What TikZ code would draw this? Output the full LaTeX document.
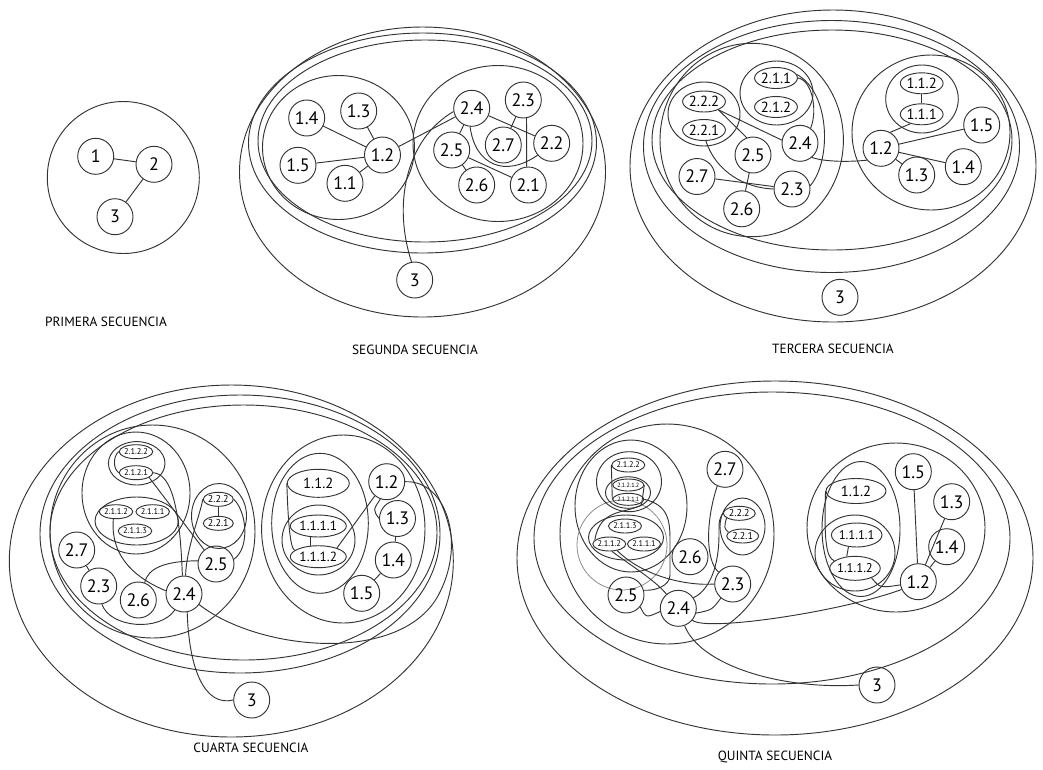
\documentclass[tikz,border=0pt]{standalone}
\usepackage{fontspec}
\setmainfont{PT Sans}
\usetikzlibrary{shapes.geometric}
\begin{document}
\begin{tikzpicture}[x=0.75pt,y=-0.75pt,
  ln/.style={draw=black!80, line width=0.7pt},
  nd/.style={circle, ln, minimum size=27pt, inner sep=0pt, font=\fontsize{13.5}{14}\selectfont},
  sm/.style={ellipse, ln, inner sep=0pt},
  ethree/.style={sm, minimum width=31.5pt, minimum height=15.75pt, font=\fontsize{11}{12}\selectfont},
  tfour/.style={sm, minimum width=24pt, minimum height=10.5pt, font=\fontsize{6.3}{7}\selectfont},
  tfourb/.style={sm, minimum width=22.5pt, minimum height=10.5pt, font=\fontsize{7.5}{8}\selectfont},
  mfour/.style={sm, minimum width=46.5pt, minimum height=21pt, font=\fontsize{11}{12}\selectfont},
  mfourb/.style={sm, minimum width=42pt, minimum height=16.5pt, font=\fontsize{10}{11}\selectfont},
  tfive/.style={sm, minimum width=22.5pt, minimum height=10.5pt, font=\fontsize{6.2}{7}\selectfont},
  tfives/.style={sm, minimum width=19.5pt, minimum height=9pt, font=\fontsize{4.6}{5}\selectfont},
  tfiveb/.style={sm, minimum width=24pt, minimum height=10.5pt, font=\fontsize{7.5}{8}\selectfont},
  mfive/.style={sm, minimum width=45pt, minimum height=18.75pt, font=\fontsize{11}{12}\selectfont},
  mfiveb/.style={sm, minimum width=37.5pt, minimum height=18pt, font=\fontsize{9.5}{10}\selectfont},
  ttl/.style={font=\fontsize{10}{12}\selectfont},
  lite/.style={draw=black!45, line width=0.6pt}
]
\useasboundingbox (0,0) rectangle (1043,769);

%% ---------- PRIMERA ----------
\draw[ln] (123.3,177.5) ellipse [x radius=76, y radius=76];
\node[nd] (a1) at (95.7,156.3) {1};
\node[nd] (a2) at (154,164.3) {2};
\node[nd] (a3) at (115,216.7) {3};
\draw[ln] (a1) -- (a2);
\draw[ln] (a2) -- (a3);
\node[ttl] (t1) at (106,322) {PRIMERA SECUENCIA};

%% ---------- SEGUNDA ----------
\draw[ln] (422.5,172) ellipse [x radius=183, y radius=145];
\draw[ln] (422.5,143) ellipse [x radius=174, y radius=110];
\draw[ln] (425,141) ellipse [x radius=167, y radius=101];
\draw[ln] (338.5,147.5) ellipse [x radius=76, y radius=72];
\draw[ln] (498,143.5) ellipse [x radius=85, y radius=78];
\node[nd] (b14) at (306.7,118) {1.4};
\node[nd] (b13) at (358.7,111) {1.3};
\node[nd] (b12) at (382.5,155) {1.2};
\node[nd] (b15) at (298,165.3) {1.5};
\node[nd] (b11) at (345,183.3) {1.1};
\node[nd] (b24) at (471.7,108.3) {2.4};
\node[nd] (b23) at (523.3,100) {2.3};
\node[nd] (b25) at (451.7,150) {2.5};
\node[nd] (b27) at (503.3,145) {2.7};
\node[nd] (b22) at (551.7,143.3) {2.2};
\node[nd] (b26) at (476.7,185) {2.6};
\node[nd] (b21) at (528.3,185) {2.1};
\node[nd] (b3) at (414.7,280) {3};
\draw[ln] (b14) -- (b12);
\draw[ln] (b13) -- (b12);
\draw[ln] (b15) -- (b12);
\draw[ln] (b11) -- (b12);
\draw[ln] (b12) -- (b24);
\draw[ln] (b24) -- (b25);
\draw[ln] (b24) -- (b22);
\draw[ln] (b23) -- (b27);
\draw[ln] (b23.-80) -- (b21.95);
\draw[ln] (b25) -- (b21);
\draw[ln] (b25) -- (b26);
\draw[ln] (b24.-95) .. controls (475,165) and (505,178) .. (b22.-140);
\draw[ln] (b3.100) .. controls (393,205) and (405,140) .. (b24.190);
\node[ttl] (t2) at (415,350) {SEGUNDA SECUENCIA};

%% ---------- TERCERA ----------
\draw[ln] (833,166) ellipse [x radius=203, y radius=156];
\draw[ln] (831.5,146.5) ellipse [x radius=188, y radius=126];
\draw[ln] (832,140) ellipse [x radius=180, y radius=110];
\draw[ln] (751.7,140) ellipse [x radius=91.7, y radius=96.7];
\draw[ln] (931,132.5) ellipse [x radius=79, y radius=77.5];
\draw[ln] (776.5,93) ellipse [x radius=36.5, y radius=32];
\draw[ln] (704,114) ellipse [x radius=36, y radius=32];
\draw[ln] (922,99) ellipse [x radius=36.3, y radius=34];
\node[ethree] (c211) at (776,78) {2.1.1};
\node[ethree] (c212) at (776,107) {2.1.2};
\node[ethree] (c222) at (704,101.5) {2.2.2};
\node[ethree] (c221) at (704,130) {2.2.1};
\node[ethree] (c112) at (921.7,83.3) {1.1.2};
\node[ethree] (c111) at (921.7,114.3) {1.1.1};
\node[nd] (c24) at (800,143.3) {2.4};
\node[nd] (c25) at (753,155) {2.5};
\node[nd] (c23) at (792,189) {2.3};
\node[nd] (c27) at (697,176.5) {2.7};
\node[nd] (c26) at (741.7,208.8) {2.6};
\node[nd] (c12) at (881,148.3) {1.2};
\node[nd] (c15) at (981.7,125) {1.5};
\node[nd] (c14) at (963.3,166.7) {1.4};
\node[nd] (c13) at (916.7,175) {1.3};
\node[nd] (c3) at (840,297.3) {3};
\draw[ln] (c222.-30) -- (c24.170);
\draw[ln] (c222.-30) -- (c25.110);
\draw[ln] (c221.-80) .. controls (716,172) and (745,188) .. (c23.180);
\draw[ln] (c27) -- (c23);
\draw[ln] (c25) -- (c26);
\draw[ln] (c211.east) .. controls (812,80) and (818,110) .. (c24.55);
\draw[ln] (c211.10) .. controls (830,92) and (832,160) .. (c23.10);
\draw[ln] (c24.-50) .. controls (825,162) and (850,162) .. (c12.220);
\draw[ln] (c112) -- (c111);
\draw[ln] (c111.220) -- (c12.60);
\draw[ln] (c12) -- (c15);
\draw[ln] (c12) -- (c14);
\draw[ln] (c12) -- (c13);
\node[ttl] (t3) at (833,349) {TERCERA SECUENCIA};

%% ---------- CUARTA ----------
\draw[ln] (231.3,561) ellipse [x radius=222, y radius=176];
\draw[ln] (240,534) ellipse [x radius=200, y radius=139];
\draw[ln] (243.5,532.5) ellipse [x radius=193.5, y radius=127.5];
\draw[ln] (152.5,531.5) ellipse [x radius=102.5, y radius=106.5];
\draw[ln] (343.3,529) ellipse [x radius=81.7, y radius=94];
\draw[ln] (136,493) ellipse [x radius=54, y radius=61];
\draw[ln] (136.7,463.3) ellipse [x radius=28.3, y radius=21.7];
\draw[ln] (136.7,521) ellipse [x radius=41.7, y radius=24];
\draw[ln] (219,516) ellipse [x radius=27.5, y radius=32.5];
\draw[ln] (320,523.3) ellipse [x radius=48.3, y radius=70];
\draw[ln] (318.5,540) ellipse [x radius=36.5, y radius=35];
\node[tfour] (d2122) at (136,451.7) {2.1.2.2};
\node[tfour] (d2121) at (136,472.7) {2.1.2.1};
\node[tfour] (d2112) at (116,511.7) {2.1.1.2};
\node[tfour] (d2111) at (152.7,511.7) {2.1.1.1};
\node[tfour] (d2113) at (135,531) {2.1.1.3};
\node[tfourb] (d222) at (218.3,499.3) {2.2.2};
\node[tfourb] (d221) at (218.3,523.3) {2.2.1};
\node[mfour] (d112) at (318.3,483.3) {1.1.2};
\node[mfourb] (d1111) at (318.3,526) {1.1.1.1};
\node[mfourb] (d1112) at (318.3,556.7) {1.1.1.2};
\node[nd] (d25) at (216,564) {2.5};
\node[nd] (d27) at (76.7,550) {2.7};
\node[nd] (d23) at (98.7,586) {2.3};
\node[nd] (d26) at (138.3,600) {2.6};
\node[nd] (d24) at (184,594) {2.4};
\node[nd] (d3) at (251.7,700) {3};
\node[nd] (d12) at (386.7,481.7) {1.2};
\node[nd] (d13) at (397.5,518.5) {1.3};
\node[nd] (d14) at (393.3,560) {1.4};
\node[nd] (d15) at (361.7,593.3) {1.5};
\draw[ln] (d2122.west) .. controls (113,456) and (113,469) .. (d2121.west);
\draw[ln] (d2121.east) .. controls (172,474) and (180,510) .. (d24.95);
\draw[ln] (d2121.-20) -- (d25.130);
\draw[ln] (d2112.-110) .. controls (110,560) and (140,580) .. (d24.170);
\draw[ln] (d222.west) .. controls (200,515) and (186,550) .. (d24.85);
\draw[ln] (d222.east) .. controls (247,512) and (250,548) .. (d25.15);
\draw[ln] (d222) -- (d221);
\draw[ln] (d25.170) .. controls (165,561) and (148,568) .. (d26.70);
\draw[ln] (d27) -- (d23);
\draw[ln] (d23.-80) .. controls (110,628) and (160,632) .. (d24.-120);
\draw[ln] (d24.-80) .. controls (189,670) and (205,707) .. (d3.west);
\draw[ln] (d24.-35) .. controls (260,652) and (405,665) .. (440,592)
   .. controls (466,540) and (445,480) .. (d12.east);
\draw[ln] (d112.west) .. controls (288,520) and (290,548) .. (d1112.165);
\draw[ln] (d1111.235) -- (d1112.125);
\draw[ln] (d12.230) -- (d1112.25);
\draw[ln] (d12.250) .. controls (373,510) .. (d13.west);
\draw[ln] (d13) -- (d14);
\draw[ln] (d14) -- (d15);
\node[ttl] (t4) at (251,748) {CUARTA SECUENCIA};

%% ---------- QUINTA ----------
\draw[ln] (775,558) ellipse [x radius=258, y radius=177];
\draw[ln] (772,538) ellipse [x radius=238, y radius=146];
\draw[ln] (667,534) ellipse [x radius=107, y radius=110];
\draw[ln] (631,506) ellipse [x radius=56, y radius=66];
\draw[lite] (622,545) ellipse [x radius=45, y radius=45];
\draw[ln] (629,481.7) ellipse [x radius=32.5, y radius=30];
\draw[ln] (628,492.5) ellipse [x radius=22.5, y radius=15.8];
\draw[ln] (626,537.5) ellipse [x radius=37.5, y radius=22.5];
\draw[ln] (742.5,526.5) ellipse [x radius=22.5, y radius=28.5];
\draw[ln] (896,527.5) ellipse [x radius=89, y radius=84.5];
\draw[ln] (861,529) ellipse [x radius=39, y radius=67.5];
\draw[ln] (855,553) ellipse [x radius=40, y radius=38];
\node[tfive] (e2122) at (628.3,465) {2.1.2.2};
\node[tfives] (e21212) at (628.3,485) {2.1.2.1.2};
\node[tfives] (e21211) at (628.3,499.3) {2.1.2.1.1};
\node[tfive] (e2113) at (625,526) {2.1.1.3};
\node[tfive] (e2112) at (609.3,544) {2.1.1.2};
\node[tfive] (e2111) at (644,544) {2.1.1.1};
\node[tfiveb] (e222) at (739.3,513.3) {2.2.2};
\node[tfiveb] (e221) at (742.7,536) {2.2.1};
\node[mfive] (e112) at (856,491) {1.1.2};
\node[mfiveb] (e1111) at (856.7,535) {1.1.1.1};
\node[mfiveb] (e1112) at (855,568.3) {1.1.1.2};
\node[nd] (e27) at (725,469.3) {2.7};
\node[nd] (e26) at (690,556.7) {2.6};
\node[nd] (e23) at (732.7,584) {2.3};
\node[nd] (e25) at (626,595) {2.5};
\node[nd] (e24) at (678.3,608.3) {2.4};
\node[nd] (e3) at (877,685) {3};
\node[nd] (e15) at (913.3,471.7) {1.5};
\node[nd] (e13) at (951.7,501.7) {1.3};
\node[nd] (e14) at (946.7,546.7) {1.4};
\node[nd] (e12) at (918.3,581.7) {1.2};
\draw[ln] (e2122.west) -- (e21211.west);
\draw[ln] (e21212.east) -- (641.5,505) .. controls (625,514) and (600,508) .. (e2112.165);
\draw[ln] (e2112.-70) .. controls (630,565) and (655,580) .. (e24.130);
\draw[ln] (e2112.-40) .. controls (645,578) and (690,586) .. (e23.west);
\draw[ln] (e21211.east) .. controls (668,505) and (670,520) .. (670,540) -- (670,575)
   .. controls (670,586) and (655,591) .. (e25.15);
\draw[ln] (e25.-40) .. controls (646,618) .. (e24.190);
\draw[ln] (e24.35) .. controls (710,590) and (719,565) .. (719,535) .. controls (719,520) .. (e222.west);
\draw[ln] (e222.200) .. controls (724,528) .. (e221.165);
\draw[ln] (e27.-115) .. controls (706,520) and (705,560) .. (e23.140);
\draw[ln] (e24.-15) .. controls (712,610) .. (e23.230);
\draw[ln] (e24.-70) .. controls (700,665) and (780,690) .. (e3.west);
\draw[ln] (e24.-40) .. controls (705,632) and (840,612) .. (e12.205);
\draw[ln] (e112.west) .. controls (824,540) and (826,558) .. (e1112.160);
\draw[ln] (e1111.235) -- (e1112.125);
\draw[ln] (e1112.-30) .. controls (880,588) .. (e12.190);
\draw[ln] (e15) -- (e12);
\draw[ln] (e13) -- (e12);
\draw[ln] (e14) -- (e12);
\node[ttl] (t5) at (775,757) {QUINTA SECUENCIA};
\end{tikzpicture}
\end{document}
